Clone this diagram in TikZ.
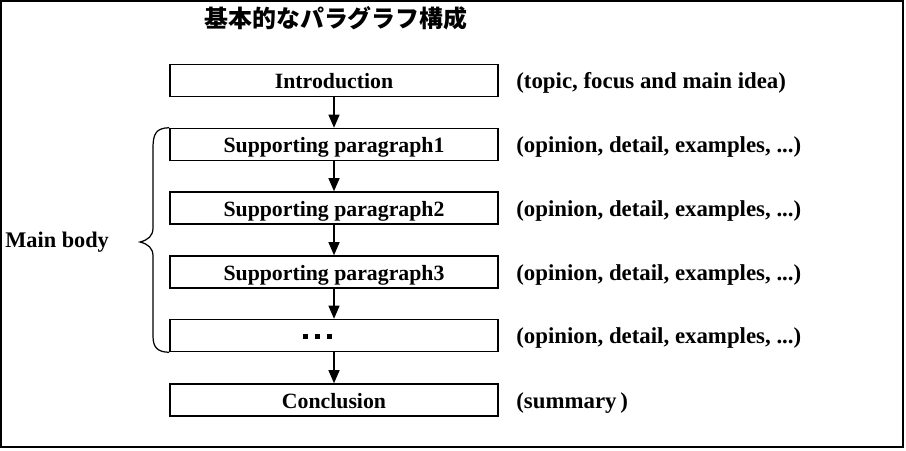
\documentclass[tikz,border=0pt]{standalone}
\usepackage{fontspec}
\setmainfont{Liberation Serif}
\newfontfamily\cjk{Noto Sans CJK JP}
\usepackage{tikz}
\usetikzlibrary{arrows.meta}

\newcommand{\sqdot}{\rule{2.8pt}{2.8pt}}

\tikzset{
	part/.style={draw, line width=0.9pt, minimum width=6.56cm, minimum height=0.64cm, inner sep=0pt,
		text height=12pt, text depth=2.4pt},
	note/.style={anchor=base west, inner sep=0pt, font=\bfseries\fontsize{13}{15}\selectfont},
	flow/.style={-{Triangle[width=0.22cm, length=0.26cm]}, line width=0.7pt}
}

\begin{document}
\begin{tikzpicture}[x=0.02cm, y=-0.02cm, font=\bfseries\fontsize{12.4}{14}\selectfont]
		\useasboundingbox (0, 0) rectangle (906, 450);
		% frame
		\draw[line width=0.6pt] (1, 1) rectangle (903, 447);
		\draw[line width=1.6pt] (1, 447) -- (903, 447) -- (903, 1);
		
		\node[font=\cjk\bfseries\fontsize{13.6}{15}\selectfont] (title) at (336, 18) {基本的なパラグラフ構成};
		
		\node[part] (intro) at (334, 80.5) {Introduction};
		\node[part] (sp1) at (334, 144.5) {Supporting paragraph1};
		\node[part] (sp2) at (334, 208) {Supporting paragraph2};
		\node[part] (sp3) at (334, 272) {Supporting paragraph3};
		\node[part] (more) at (334, 335.5)
			{\hspace*{-0.66cm}\raisebox{2.8pt}{\sqdot\hspace{4pt}\sqdot\hspace{4pt}\sqdot}};
		\node[part] (concl) at (334, 400) {Conclusion};
		
		\node[note] (nintro) at (516, 88.5) {(topic, focus and main idea)};
		\node[note] (nsp1) at (516, 152.5) {(opinion, detail, examples, ...)};
		\node[note] (nsp2) at (516, 216) {(opinion, detail, examples, ...)};
		\node[note] (nsp3) at (516, 280) {(opinion, detail, examples, ...)};
		\node[note] (nmore) at (516, 343.5) {(opinion, detail, examples, ...)};
		\node[note] (nconcl) at (516, 408) {(summary\,)};
		
		\node[note, font=\bfseries\fontsize{12.7}{14}\selectfont] (body) at (5, 247) {Main body};
		
		\draw[flow] (intro) -- (sp1);
		\draw[flow] (sp1) -- (sp2);
		\draw[flow] (sp2) -- (sp3);
		\draw[flow] (sp3) -- (more);
		\draw[flow] (more) -- (concl);
		
		% brace round the body
		\draw[line width=0.7pt] (sp1.north west) .. controls (156, 128) and (153, 134) .. (153, 148) -- (153, 228)
			.. controls (153, 236) and (148, 240) .. (140, 242)
			.. controls (148, 244) and (153, 248) .. (153, 256) -- (153, 336)
			.. controls (153, 348) and (158, 352) .. (more.south west);
	\end{tikzpicture}
\end{document}
